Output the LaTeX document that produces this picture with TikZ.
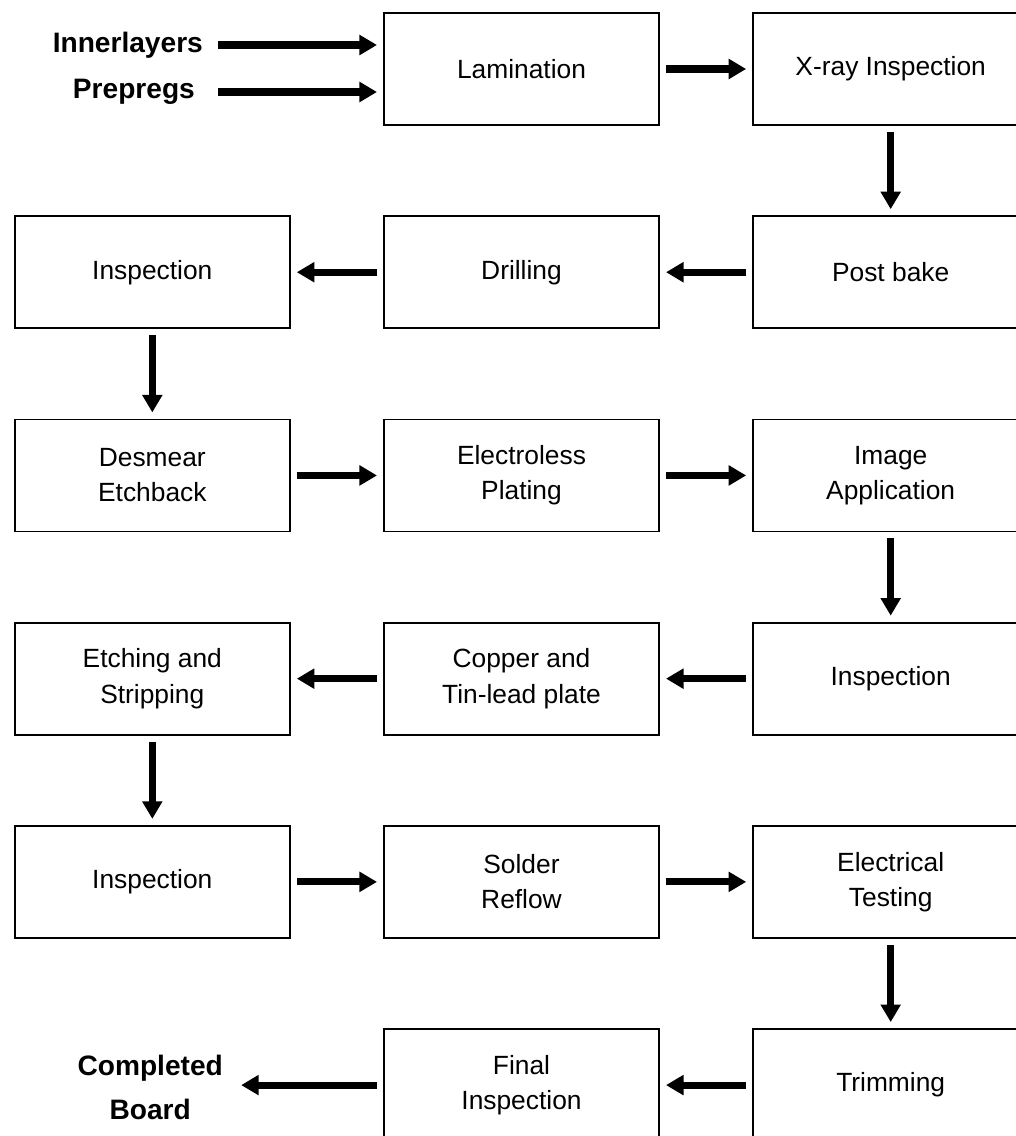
\documentclass[tikz,border=0pt]{standalone}
\usepackage{fontspec}
\setmainfont{Liberation Sans}
\usetikzlibrary{arrows.meta, positioning}

\begin{document}
\begin{tikzpicture}[
        x=0.02cm, y=-0.02cm,
        % Spacing between the boxes
        node distance=1.79cm and 1.85cm,
        % Style for the process boxes
        stepbox/.style={rectangle, draw=black, line width=1pt, minimum width=5.5cm, minimum height=2.24cm, align=center, font=\fontsize{15}{20}\selectfont},
        % Style for the bold input and output labels
        lbl/.style={inner sep=0pt, align=center, font=\bfseries\fontsize{16}{25}\selectfont},
        % Style for the thick arrows
        flow/.style={line width=4pt, -{Triangle[length=10pt, width=11pt]}, shorten >=3.5pt, shorten <=3.5pt}
    ]
    \useasboundingbox (0,0) rectangle (1016,1136);

    % --- ROW 1 ---
    \node (lam) [stepbox] at (521.5,69) {Lamination};
    \node (xray) [stepbox, right=of lam] {X-ray Inspection};
    \node (inner) [lbl, anchor=east] at ([xshift=-3.6cm, yshift=0.48cm]lam.west) {Innerlayers};
    \node (prepreg) [lbl, anchor=east] at ([xshift=-3.76cm, yshift=-0.46cm]lam.west) {Prepregs};

    % --- ROW 2 ---
    \node (bake) [stepbox, below=of xray] {Post bake};
    \node (drill) [stepbox, left=of bake] {Drilling};
    \node (insp1) [stepbox, left=of drill] {Inspection};

    % --- ROW 3 ---
    \node (desmear) [stepbox, below=of insp1] {Desmear\\Etchback};
    \node (eless) [stepbox, right=of desmear] {Electroless\\Plating};
    \node (image) [stepbox, right=of eless] {Image\\Application};

    % --- ROW 4 ---
    \node (insp2) [stepbox, below=of image] {Inspection};
    \node (copper) [stepbox, left=of insp2] {Copper and\\Tin-lead plate};
    \node (etch) [stepbox, left=of copper] {Etching and\\Stripping};

    % --- ROW 5 ---
    \node (insp3) [stepbox, below=of etch] {Inspection};
    \node (solder) [stepbox, right=of insp3] {Solder\\Reflow};
    \node (etest) [stepbox, right=of solder] {Electrical\\Testing};

    % --- ROW 6 ---
    \node (trim) [stepbox, below=of etest] {Trimming};
    \node (final) [stepbox, left=of trim] {Final\\Inspection};
    \node (done) [lbl] at ([xshift=-4.66cm, yshift=-0.04cm]final.west) {Completed\\Board};

    % --- ARROWS ---
    \draw[flow, shorten <=0.3cm] (inner.east) -- (inner -| lam.west);
    \draw[flow, shorten <=0.46cm] (prepreg.east) -- (prepreg -| lam.west);
    \draw[flow] (lam) -- (xray);
    \draw[flow] (xray) -- (bake);
    \draw[flow] (bake) -- (drill);
    \draw[flow] (drill) -- (insp1);
    \draw[flow] (insp1) -- (desmear);
    \draw[flow] (desmear) -- (eless);
    \draw[flow] (eless) -- (image);
    \draw[flow] (image) -- (insp2);
    \draw[flow] (insp2) -- (copper);
    \draw[flow] (copper) -- (etch);
    \draw[flow] (etch) -- (insp3);
    \draw[flow] (insp3) -- (solder);
    \draw[flow] (solder) -- (etest);
    \draw[flow] (etest) -- (trim);
    \draw[flow] (trim) -- (final);
    \draw[flow, shorten >=0.36cm] (final.west) -- (final.west -| done.east);

    \end{tikzpicture}
\end{document}
